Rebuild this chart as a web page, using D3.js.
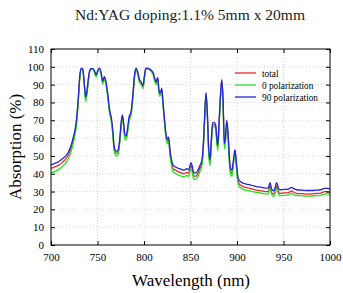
<!DOCTYPE html>
<html>
<head>
<meta charset="utf-8">
<script src="https://cdn.jsdelivr.net/npm/d3@7"></script>
<style>
  body { margin: 0; background: #fff; }
</style>
</head>
<body>
<script>
// data
const wavelength = [700,703,706,709,712,715,718,721,724,727,729,731,732.5,734,735.5,737.3,739,741,743,745,747,748.5,750,752,754,755.6,757.5,759,761,763,765,766.5,768,769.5,771,772.5,774,775.5,776.7,778,779.5,781,782.5,784,786,788,790,791.5,793,795,797,799,800.5,802,804,806,808,810,811.5,813,814.7,816.5,818,819,820.5,822,823.5,825,826.5,828,829.5,831,834,837,840,843,846,848,850.5,852,853.5,856,858,860,862,863.5,865,866.7,868.3,869.5,871,872.5,873.8,875.5,877,878.3,879.3,880.5,882,883.6,885,886.4,887.5,889,890.5,891.5,893,894.5,896,897.8,899.3,900.5,902,904,907,910,914,917,921,925,928,932,933.5,935.5,937,938.5,940,942.7,944.5,946,950,955,958.5,961,964,970,975,980,985,990,994,997,1000];

const pol90 = [45.0,45.6,46.2,47.0,48.2,49.5,51.5,55.0,60.5,68.5,80,95,99.2,99,93,83,88,96.5,99,99,97.5,95.5,97.5,99.3,96.5,92,94.5,92,85,76,71,64,55,53,52.5,54,60,69,73,69,62,61.5,66,72,74.5,84,96,99.2,97.5,93,91.5,89.5,95,99.2,99.3,98.8,98,96.5,93.5,91.5,94,85.5,86,88,80,71,63,59.5,60.5,53,48,45,43.8,43,42.5,42,42.8,42.2,46.2,44,40.5,40.5,42,44.5,47,54,70,85.5,72,55,47.8,60,68.5,68.8,67.5,60,56,67,82,92.8,82,57,60,70,62,52,43,42,47,53.5,47,40,36.5,35.5,34.6,34.2,33.8,33.3,32.8,32.5,32.2,31.9,32,35,32,30.5,30.8,35,32,31,31.2,31.3,32.3,31.6,31,30.8,30.6,30.6,30.8,31,31.8,31.8,31.4];

const total = [43.0,43.6,44.2,45.0,46.3,47.7,49.8,53.4,59.0,67.2,79,94.5,99.0,98.8,92.2,82,87.2,96,98.8,98.8,97,95,97,99,96,91.2,93.8,91.2,84,75,70,62.8,53.8,51.8,51.3,52.8,58.8,68,72,68,60.8,60.3,65,71,73.6,83.2,95.5,99,97,92.3,90.8,88.8,94.5,99,99,98.5,97.6,96,92.8,90.8,93.3,84.6,85,87.2,79,70,61.8,58.3,59.3,51.5,46.3,43.2,41.9,41,40.5,40,40.8,40.2,44.5,42.2,38.7,38.7,40.2,42.8,45.4,52.6,68.8,84.8,70.8,53.5,46.2,58.7,67.3,67.6,66.3,58.7,54.6,65.8,81.2,92.2,81.2,55.6,58.7,68.8,60.7,50.5,41.3,40.3,45.5,52.2,45.4,38.2,34.6,33.5,32.6,32.2,31.8,31.3,30.8,30.5,30.2,29.9,30,33.2,30,28.6,28.9,33.2,30,29,29.2,29.3,30.3,29.6,29,28.8,28.6,28.7,28.9,29.1,29.9,30,29.7];

const pol0 = [40.5,41.0,41.7,42.6,43.9,45.5,47.7,51.4,57.2,65.7,77.8,93.8,98.8,98.5,91.2,80.6,86,95.3,98.5,98.5,96.5,94.3,96.5,98.7,95.4,90.3,93,90.3,83,73.8,68.8,61.5,52.4,50.3,49.8,51.3,57.4,66.8,70.8,66.8,59.5,59,63.6,69.8,72.5,82.2,95,98.7,96.4,91.5,90,87.8,93.8,98.7,98.7,98.2,97.2,95.4,92,90,92.6,83.5,84,86.3,77.8,68.6,60.4,56.8,57.8,49.8,44.5,41.3,40.1,39.2,38.7,38.3,39,38.5,42.8,40.4,37,37,38.5,41,43.6,51,67.5,84,69.5,52,44.5,57.2,66,66.4,65,57.3,53,64.4,80.2,91.5,80.2,54,57.3,67.5,59.2,48.8,39.6,38.6,43.8,50.8,43.6,36.5,33,32,31.1,30.8,30.4,29.9,29.5,29.2,28.9,28.6,28.7,31.8,28.7,27.3,27.6,31.8,28.7,27.7,27.9,28,29,28.3,27.8,27.6,27.4,27.5,27.7,27.9,28.6,28.7,28.4];

const seriesNames = ["total", "0 polarization", "90 polarization"];
const seriesColors = ["#e8262a", "#22e622", "#2424d8"];
const xTicks = [700,750,800,850,900,950,1000];
const yTicks = [0,10,20,30,40,50,60,70,80,90,100,110];

const serif = "Liberation Serif";
const width = 343, height = 293;
const mLeft = 51, mRight = 330, mTop = 49, mBottom = 245;

const svg = d3.select("body").append("svg")
    .attr("width", width)
    .attr("height", height);

const x = d3.scaleLinear().domain([700, 1000]).range([mLeft, mRight]);
const y = d3.scaleLinear().domain([0, 110]).range([mBottom, mTop]);

// grid
svg.append("g")
    .selectAll("line")
    .data(xTicks.slice(1, -1))
    .join("line")
    .attr("x1", d => x(d)).attr("x2", d => x(d))
    .attr("y1", mTop).attr("y2", mBottom)
    .attr("stroke", "#c8c8c8").attr("stroke-width", 0.7)
    .attr("stroke-dasharray", "1,2");
svg.append("g")
    .selectAll("line")
    .data(yTicks.slice(1, -1))
    .join("line")
    .attr("x1", mLeft).attr("x2", mRight)
    .attr("y1", d => y(d)).attr("y2", d => y(d))
    .attr("stroke", "#c8c8c8").attr("stroke-width", 0.7)
    .attr("stroke-dasharray", "1,2");

// lines
const line = d3.line()
    .x((d, i) => x(wavelength[i]))
    .y(d => y(d))
    .curve(d3.curveMonotoneX);

[total, pol0, pol90].forEach((vals, k) => {
    svg.append("path")
        .datum(vals)
        .attr("d", line)
        .attr("fill", "none")
        .attr("stroke", seriesColors[k])
        .attr("stroke-width", 1.3);
});

// axes (ticks inward on all sides)
const axisStyle = g => {
    g.select(".domain").remove();
    g.selectAll("line").attr("stroke", "#000");
    g.selectAll("text").attr("fill", "#000")
        .style("font-family", serif).style("font-size", "11px");
};

svg.append("g")
    .attr("transform", "translate(0," + mBottom + ")")
    .call(d3.axisBottom(x).tickValues(xTicks).tickFormat(d3.format("d"))
        .tickSizeInner(-4).tickSizeOuter(0).tickPadding(8))
    .call(axisStyle);
svg.append("g")
    .attr("transform", "translate(0," + mTop + ")")
    .call(d3.axisTop(x).tickValues(xTicks).tickSizeInner(-4).tickSizeOuter(0).tickFormat(""))
    .call(axisStyle);
svg.append("g")
    .attr("transform", "translate(" + mLeft + ",0)")
    .call(d3.axisLeft(y).tickValues(yTicks).tickSizeInner(-4).tickSizeOuter(0).tickPadding(7))
    .call(axisStyle);
svg.append("g")
    .attr("transform", "translate(" + mRight + ",0)")
    .call(d3.axisRight(y).tickValues(yTicks).tickSizeInner(-4).tickSizeOuter(0).tickFormat(""))
    .call(axisStyle);

svg.append("rect")
    .attr("x", mLeft).attr("y", mTop)
    .attr("width", mRight - mLeft).attr("height", mBottom - mTop)
    .attr("fill", "none").attr("stroke", "#000").attr("stroke-width", 1);

// legend
const legend = svg.append("g");
seriesNames.forEach((name, i) => {
    const ly = 73 + i * 12;
    legend.append("line")
        .attr("x1", 235).attr("x2", 256)
        .attr("y1", ly).attr("y2", ly)
        .attr("stroke", seriesColors[i]).attr("stroke-width", 1.3);
    legend.append("text")
        .attr("x", 262).attr("y", ly + 3.5)
        .style("font-family", serif).style("font-size", "9.3px")
        .text(name);
});

// titles
svg.append("text")
    .attr("x", 190).attr("y", 20)
    .attr("text-anchor", "middle")
    .attr("textLength", 230).attr("lengthAdjust", "spacingAndGlyphs")
    .style("font-family", serif).style("font-size", "15px")
    .attr("fill", "#222")
    .text("Nd:YAG doping:1.1% 5mm x 20mm");

svg.append("text")
    .attr("x", 191).attr("y", 286)
    .attr("text-anchor", "middle")
    .style("font-family", serif).style("font-size", "17px")
    .text("Wavelength (nm)");

svg.append("text")
    .attr("transform", "translate(21," + ((mTop + mBottom) / 2) + ") rotate(-90)")
    .attr("text-anchor", "middle")
    .style("font-family", serif).style("font-size", "17px")
    .text("Absorption (%)");
</script>
</body>
</html>
